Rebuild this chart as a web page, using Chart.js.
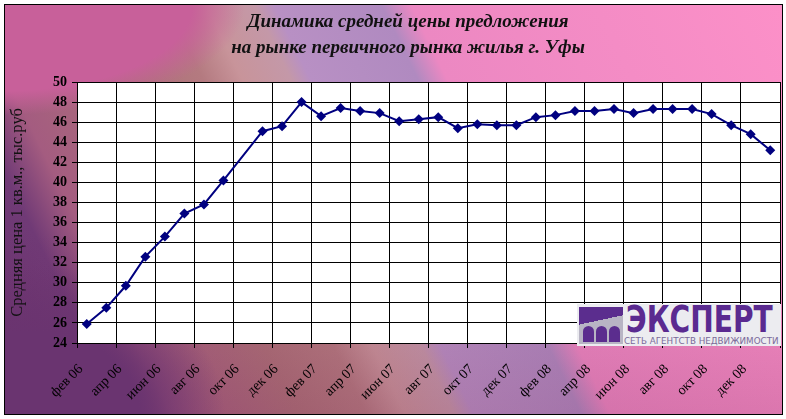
<!DOCTYPE html>
<html lang="ru">
<head>
<meta charset="utf-8">
<script src="https://cdn.jsdelivr.net/npm/chart.js@4.4.1/dist/chart.umd.min.js"></script>
<style>
  html, body { margin: 0; padding: 0; background: #fff; }
  #frame {
    position: absolute; left: 4px; top: 4px; width: 777px; height: 409px;
    border: 1px solid #000;
    background:
      radial-gradient(ellipse 190px 150px at 30px 410px, #6a3470 55%, rgba(106,52,112,0) 100%),
      radial-gradient(ellipse 240px 110px at 0px 0px, #c8609a 78%, rgba(200,96,154,0) 100%),
      linear-gradient(to bottom, rgba(0,0,0,0) 55%, rgba(110,20,70,0.18) 100%),
      linear-gradient(64deg, #6a3470 0%, #703a76 12%, #a45c80 17%, #ac7078 30%, #b47a80 37%,
        #c8949a 41%, #c498a8 46%, #b890c4 48%, #b08ac0 59%, #ec88c2 62%, #fc90c8 100%);
  }
  #chart { position: absolute; left: 0; top: 0; }
  #title {
    position: absolute; left: 208px; top: 8px; width: 400px; text-align: center;
    font: italic bold 19px/26px "Liberation Serif", serif; color: #111;
  }
  #logo {
    position: absolute; left: 577px; top: 304px; width: 204px; height: 42px;
    background: #ececf0; overflow: hidden;
  }
  #logo .icon {
    position: absolute; left: 2px; top: 3px; width: 44px; height: 37px;
    background: linear-gradient(168deg, #5b2d8e 0 38%, #b8b4c4 38% 100%);
  }
  #logo .icon span {
    position: absolute; bottom: 2px; width: 11px; height: 16px;
    background: #5b2d8e; border-radius: 6px 6px 0 0;
  }
  #logo .word {
    position: absolute; left: 49px; top: -6px;
    font: bold 37px "DejaVu Sans", sans-serif; color: #5a2a90;
    transform: scaleX(0.76); transform-origin: left top; white-space: nowrap;
  }
  #logo .sub {
    position: absolute; left: 47px; top: 31px;
    font: 9.5px "DejaVu Sans", sans-serif; color: #7a6a9a;
    transform: scaleX(0.92); transform-origin: left top; white-space: nowrap;
  }
</style>
</head>
<body>
<div id="frame"></div>
<canvas id="chart" width="786" height="419"></canvas>
<div id="title">Динамика средней цены предложения<br>на рынке первичного рынка жилья г. Уфы</div>
<div id="logo">
  <div class="icon"><span style="left:4px"></span><span style="left:17px"></span><span style="left:30px"></span></div>
  <div class="word">ЭКСПЕРТ</div>
  <div class="sub">СЕТЬ АГЕНТСТВ НЕДВИЖИМОСТИ</div>
</div>
<script>
// Months shown on the category axis (Feb 2006 .. Jan 2009)
const MONTHS = [
  "фев 06", "мар 06", "апр 06", "май 06", "июн 06", "июл 06",
  "авг 06", "сен 06", "окт 06", "ноя 06", "дек 06", "янв 07",
  "фев 07", "мар 07", "апр 07", "май 07", "июн 07", "июл 07",
  "авг 07", "сен 07", "окт 07", "ноя 07", "дек 07", "янв 08",
  "фев 08", "мар 08", "апр 08", "май 08", "июн 08", "июл 08",
  "авг 08", "сен 08", "окт 08", "ноя 08", "дек 08", "янв 09",
];

// Average offer price, thousand rub per sq.m. (no value for окт 06)
const PRICES = [
  25.9, 27.5, 29.7, 32.6, 34.6, 36.9,
  37.8, 40.2, null, 45.1, 45.6, 48.0,
  46.6, 47.4, 47.1, 46.9, 46.1, 46.3,
  46.5, 45.4, 45.8, 45.7, 45.7, 46.5,
  46.7, 47.1, 47.1, 47.3, 46.9, 47.3,
  47.3, 47.3, 46.8, 45.7, 44.8, 43.2,
];

const Y_MIN = 24;
const Y_MAX = 50;
const Y_STEP = 2;
const Y_TITLE = "Средняя цена 1 кв.м., тыс.руб";

const SERIF = "'Liberation Serif', 'Times New Roman', serif";
const LINE_COLOR = "#000080";

// white plot area under the grid
const plotBackground = {
  id: "plotBackground",
  beforeDraw(chart) {
    const { ctx, chartArea: a } = chart;
    ctx.save();
    ctx.fillStyle = "#ffffff";
    ctx.fillRect(a.left, a.top, a.right - a.left, a.bottom - a.top);
    ctx.restore();
  },
};

new Chart(document.getElementById("chart"), {
  type: "line",
  data: {
    labels: MONTHS,
    datasets: [{
      data: PRICES,
      borderColor: LINE_COLOR,
      borderWidth: 2,
      backgroundColor: LINE_COLOR,
      pointStyle: "rectRot",
      pointRadius: 5,
      pointBorderWidth: 0,
      spanGaps: true,
      tension: 0,
    }],
  },
  options: {
    responsive: false,
    animation: false,
    layout: { padding: { left: 0, right: 6, top: 82, bottom: 0 } },
    plugins: {
      legend: { display: false },
      tooltip: { enabled: false },
    },
    scales: {
      x: {
        offset: true,
        grid: {
          offset: true,
          // one line every two months, plus the right edge
          color: c => (c.index === undefined || c.index % 2 === 0) ? "#000" : "rgba(0,0,0,0)",
          tickLength: 5,
        },
        border: { color: "#000" },
        ticks: {
          autoSkip: false,
          minRotation: 45,
          maxRotation: 45,
          padding: 13,
          labelOffset: -6,
          color: "#000",
          font: { family: SERIF, size: 14 },
          callback: (v, i) => (i % 2 === 0 ? MONTHS[i] : ""),
        },
        afterFit: s => {
          s.height = 76;
          s.paddingLeft = 0;
          s.paddingRight = 0;
        },
      },
      y: {
        min: Y_MIN,
        max: Y_MAX,
        ticks: {
          stepSize: Y_STEP,
          padding: 5,
          color: "#000",
          font: { family: SERIF, size: 14, weight: "bold" },
        },
        grid: { color: "#000", tickLength: 5 },
        border: { color: "#000" },
        title: {
          display: true,
          text: Y_TITLE,
          color: "#111",
          font: { family: SERIF, size: 16.5 },
          padding: { top: 8, bottom: 0 },
        },
        afterFit: s => { s.width = 77; },
      },
    },
  },
  plugins: [plotBackground],
});
</script>
</body>
</html>
